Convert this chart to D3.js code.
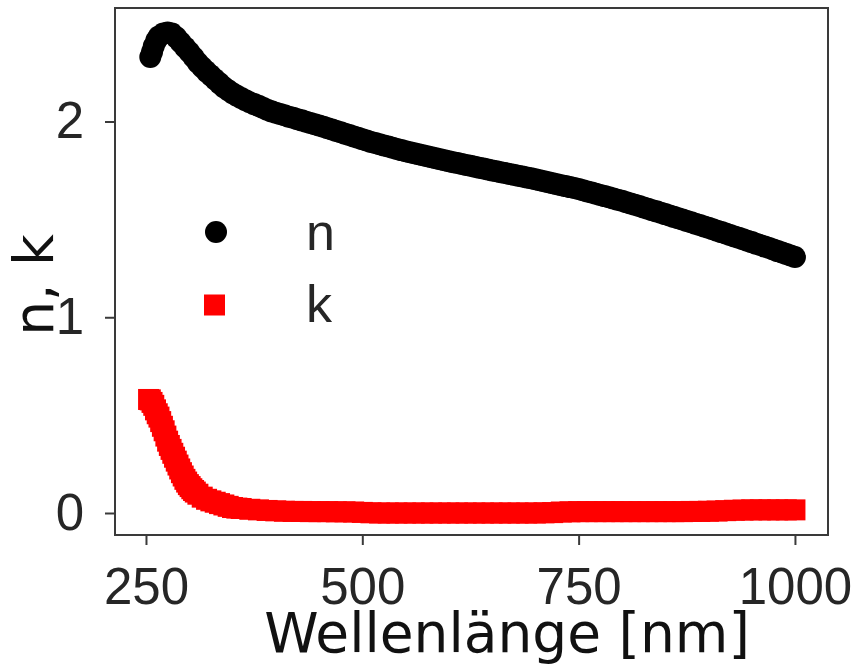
<!DOCTYPE html>
<html>
<head>
<meta charset="utf-8">
<script src="https://cdn.jsdelivr.net/npm/d3@7"></script>
<style>
  body { margin: 0; background: #fff; }
  svg { display: block; }
</style>
</head>
<body>
<svg id="chart" width="853" height="664"></svg>
<script>
// Refractive index n and extinction coefficient k versus wavelength (nm)
const nWavelength = [255, 257, 259, 262, 265, 270, 275, 280, 285, 290, 295, 300, 305, 310, 315, 320, 325, 330, 335,
  340, 345, 350, 355, 360, 365, 370, 375, 380, 385, 390, 395, 400, 405, 410, 415, 420, 425, 430, 435,
  440, 445, 450, 455, 460, 465, 470, 475, 480, 485, 490, 495, 500, 505, 510, 515, 520, 525, 530, 535,
  540, 545, 550, 555, 560, 565, 570, 575, 580, 585, 590, 595, 600, 605, 610, 615, 620, 625, 630, 635,
  640, 645, 650, 655, 660, 665, 670, 675, 680, 685, 690, 695, 700, 705, 710, 715, 720, 725, 730, 735,
  740, 745, 750, 755, 760, 765, 770, 775, 780, 785, 790, 795, 800, 805, 810, 815, 820, 825, 830, 835,
  840, 845, 850, 855, 860, 865, 870, 875, 880, 885, 890, 895, 900, 905, 910, 915, 920, 925, 930, 935,
  940, 945, 950, 955, 960, 965, 970, 975, 980, 985, 990, 995, 1000];
const nValues = [2.33, 2.355, 2.385, 2.415, 2.435, 2.45, 2.455, 2.45, 2.43, 2.405, 2.38, 2.355, 2.328, 2.30, 2.277, 2.255, 2.235, 2.215, 2.195,
  2.175, 2.16, 2.145, 2.132, 2.12, 2.109, 2.098, 2.089, 2.08, 2.07, 2.06, 2.052, 2.045, 2.038, 2.032, 2.025, 2.019, 2.012, 2.006, 1.999,
  1.993, 1.986, 1.98, 1.973, 1.966, 1.959, 1.952, 1.945, 1.938, 1.931, 1.924, 1.917, 1.91, 1.903, 1.896, 1.89, 1.884, 1.878, 1.872, 1.866,
  1.86, 1.854, 1.848, 1.843, 1.838, 1.833, 1.828, 1.823, 1.818, 1.812, 1.807, 1.802, 1.797, 1.792, 1.788, 1.783, 1.778, 1.774, 1.769, 1.764,
  1.76, 1.755, 1.75, 1.746, 1.741, 1.737, 1.732, 1.728, 1.723, 1.719, 1.714, 1.71, 1.705, 1.70, 1.695, 1.69, 1.685, 1.68, 1.675, 1.67,
  1.665, 1.66, 1.655, 1.649, 1.643, 1.637, 1.631, 1.625, 1.619, 1.613, 1.607, 1.601, 1.595, 1.588, 1.581, 1.575, 1.568, 1.561, 1.554, 1.547,
  1.541, 1.534, 1.527, 1.52, 1.513, 1.506, 1.499, 1.492, 1.485, 1.478, 1.471, 1.464, 1.457, 1.45, 1.442, 1.435, 1.428, 1.42, 1.413, 1.406,
  1.399, 1.391, 1.384, 1.376, 1.369, 1.361, 1.354, 1.346, 1.338, 1.331, 1.323, 1.316, 1.308];

const kWavelength = [253, 255, 257, 259, 261, 263, 265, 267, 269, 271, 273, 275, 277, 279, 281, 283, 285, 287, 289,
  291, 293, 295, 297, 299, 301, 303, 305, 307, 310, 315, 320, 325, 330, 335, 340, 345, 350, 355, 360, 370,
  380, 390, 400, 410, 420, 430, 440, 450, 460, 470, 480, 490, 500, 510, 520, 530, 540, 550, 560, 570, 580,
  590, 600, 610, 620, 630, 640, 650, 660, 670, 680, 690, 700, 710, 720, 730, 740, 750, 760, 770, 780, 790,
  800, 810, 820, 830, 840, 850, 860, 870, 880, 890, 900, 910, 920, 930, 940, 950, 960, 970, 980, 990, 1000];
const kValues = [0.58, 0.578, 0.565, 0.55, 0.527, 0.507, 0.49, 0.467, 0.443, 0.42, 0.393, 0.367, 0.345, 0.325, 0.305, 0.285, 0.265, 0.245, 0.225,
  0.206, 0.189, 0.172, 0.158, 0.145, 0.135, 0.124, 0.115, 0.107, 0.096, 0.081, 0.070, 0.062, 0.055, 0.048, 0.041, 0.034, 0.028, 0.025, 0.023, 0.019,
  0.016, 0.013, 0.011, 0.009, 0.008, 0.008, 0.007, 0.007, 0.007, 0.006, 0.006, 0.005, 0.003, 0.001, 0.0, 0.0, 0.0, 0.0, 0.0, 0.0, 0.0,
  0.0, 0.0, 0.0, 0.0, 0.0, 0.0, 0.0, 0.0, 0.0, 0.0, 0.0, 0.0, 0.001, 0.002, 0.005, 0.006, 0.007, 0.007, 0.007, 0.007, 0.007,
  0.007, 0.007, 0.007, 0.007, 0.007, 0.007, 0.007, 0.007, 0.008, 0.008, 0.009, 0.010, 0.012, 0.014, 0.015, 0.016, 0.016, 0.016, 0.016, 0.016, 0.016];

const xTicks = [250, 500, 750, 1000];
const yTicks = [0, 1, 2];
const seriesNames = ["n", "k"];
const xLabel = "Wellenlänge [nm]";
const yLabel = "n, k";

const nPoints = nWavelength.map((w, i) => ({ w, v: nValues[i] }));
const kPoints = kWavelength.map((w, i) => ({ w, v: kValues[i] }));

const svg = d3.select("#chart");
const plot = { left: 115, right: 828, top: 8, bottom: 535 };

const x = d3.scaleLinear().domain([214.2, 1038.2]).range([plot.left, plot.right]);
const y = d3.scaleLinear().domain([-0.1124, 2.58]).range([plot.bottom, plot.top]);

const tickFont = "'Liberation Sans', Arial, sans-serif";
const labelFont = "'DejaVu Sans', sans-serif";
const axisColor = "#3a3a3a";

// Markers: n as black circles, k as red squares
const markerR = 11;
const sq = 21;

svg.append("g")
  .selectAll("circle")
  .data(nPoints)
  .join("circle")
  .attr("cx", d => x(d.w))
  .attr("cy", d => y(d.v))
  .attr("r", markerR)
  .attr("fill", "#000");

svg.append("g")
  .selectAll("rect")
  .data(kPoints)
  .join("rect")
  .attr("x", d => x(d.w) - sq / 2)
  .attr("y", d => y(d.v) - sq / 2)
  .attr("width", sq)
  .attr("height", sq)
  .attr("fill", "#ff0000");

// Axes
const xAxis = svg.append("g")
  .attr("transform", `translate(0,${plot.bottom})`)
  .call(d3.axisBottom(x).tickValues(xTicks).tickSize(10).tickPadding(23).tickFormat(d3.format("d")));
const yAxis = svg.append("g")
  .attr("transform", `translate(${plot.left},0)`)
  .call(d3.axisLeft(y).tickValues(yTicks).tickSize(10).tickPadding(21).tickFormat(d3.format("d")));

[xAxis, yAxis].forEach(g => {
  g.select(".domain").remove();
  g.selectAll(".tick line").attr("stroke", axisColor).attr("stroke-width", 2);
  g.selectAll(".tick text")
    .attr("fill", "#262626")
    .style("font-family", tickFont)
    .style("font-size", "51px");
});

// Frame around the plot area
svg.append("rect")
  .attr("x", plot.left)
  .attr("y", plot.top)
  .attr("width", plot.right - plot.left)
  .attr("height", plot.bottom - plot.top)
  .attr("fill", "none")
  .attr("stroke", axisColor)
  .attr("stroke-width", 2);

// Axis titles
svg.append("text")
  .attr("x", 507)
  .attr("y", 652)
  .attr("text-anchor", "middle")
  .attr("fill", "#111")
  .style("font-family", labelFont)
  .style("font-size", "55px")
  .text(xLabel);

svg.append("text")
  .attr("transform", "translate(53,285) rotate(-90)")
  .attr("text-anchor", "middle")
  .attr("fill", "#111")
  .style("font-family", labelFont)
  .style("font-size", "55px")
  .text(yLabel);

// Legend
const legend = svg.append("g");
legend.append("circle").attr("cx", 216).attr("cy", 232).attr("r", markerR).attr("fill", "#000");
legend.append("rect").attr("x", 214.5 - sq / 2).attr("y", 305 - sq / 2)
  .attr("width", sq).attr("height", sq).attr("fill", "#ff0000");
legend.selectAll("text.entry")
  .data(seriesNames)
  .join("text")
  .attr("class", "entry")
  .attr("x", 306)
  .attr("y", (d, i) => [250, 322][i])
  .attr("fill", "#262626")
  .style("font-family", tickFont)
  .style("font-size", "52px")
  .text(d => d);
</script>
</body>
</html>
